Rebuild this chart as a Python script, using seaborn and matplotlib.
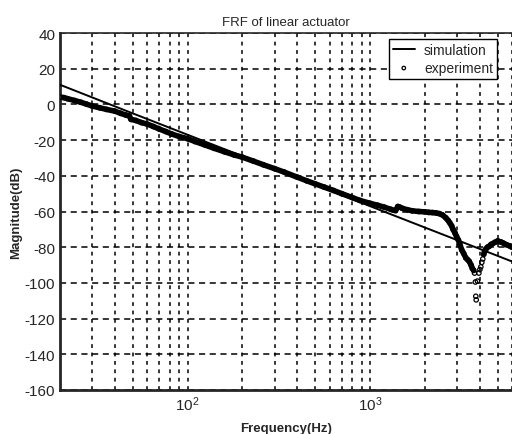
import numpy as np
import pandas as pd
import matplotlib
matplotlib.use("Agg")
import matplotlib.pyplot as plt
import seaborn as sns

# simulation: straight line on the log axis (about -40 dB/decade)
sim_freq = [20, 50, 100, 300, 1000, 3000, 6000]
sim_mag = [11.0, -5.0, -17.0, -36.0, -57.0, -76.0, -88.0]

# experiment
exp_freq = [20, 21, 22, 24, 26, 28, 30, 33, 36, 40, 43, 46, 48, 49, 52, 56,
            60, 65, 70, 76, 82, 90, 100, 110, 125, 140, 160, 180, 200, 230,
            260, 300, 340, 400, 450, 500, 560, 630, 700, 800, 880, 1000,
            1100, 1200, 1300, 1380, 1420, 1450, 1500, 1600, 1700, 1850,
            2000, 2100, 2200, 2300, 2400, 2500, 2600, 2680, 2730, 2800,
            2850, 2920, 2980, 3050, 3100, 3180, 3260, 3350, 3430, 3500,
            3580, 3640, 3700, 3740, 3780, 3800, 3820, 3880, 3950, 4000,
            4050, 4100, 4150, 4200, 4250, 4320, 4400, 4500, 4600, 4700,
            4850, 5000, 5100, 5250, 5400, 5600, 5800, 6000]
exp_mag = [4.1, 3.8, 3.2, 2.2, 1.2, 0.1, -0.9, -1.9, -2.8, -3.8, -5.0, -6.0,
           -6.5, -8.4, -9.0, -10.2, -11.0, -12.4, -13.8, -15.2, -16.6, -18.0,
           -19.2, -20.8, -22.8, -24.6, -26.6, -28.3, -29.6, -31.8, -33.8,
           -36.0, -38.0, -40.8, -42.8, -44.5, -46.3, -48.2, -50.0, -52.2,
           -53.8, -55.4, -56.5, -57.6, -58.8, -59.5, -57.2, -57.5, -58.2,
           -59.0, -59.6, -60.0, -60.2, -60.5, -60.6, -60.8, -61.2, -62.0,
           -63.5, -65.0, -66.2, -68.0, -70.0, -72.0, -74.0, -76.0, -78.0,
           -81.5, -83.5, -86.0, -87.0, -88.0, -90.0, -92.0, -93.0, -94.5,
           -99.5, -107.5, -109.5, -99.0, -94.5, -92.5, -91.0, -88.5, -86.6,
           -84.0, -82.0, -81.0, -80.0, -79.5, -78.5, -78.0, -77.2, -76.5,
           -76.8, -77.2, -77.8, -78.6, -79.2, -80.0]

sim = pd.DataFrame({"freq": sim_freq, "mag": sim_mag})
exp = pd.DataFrame({"freq": exp_freq, "mag": exp_mag})

sns.set_style("ticks")
plt.rcParams["font.family"] = ["Liberation Sans", "DejaVu Sans"]
plt.rcParams["mathtext.fontset"] = "custom"
plt.rcParams["mathtext.rm"] = "Liberation Sans"
plt.rcParams["mathtext.it"] = "Liberation Sans"
plt.rcParams["axes.unicode_minus"] = False

fig = plt.figure(figsize=(5.12, 4.35), dpi=100)
ax = fig.add_axes([60 / 512, 44 / 435, 1 - 60 / 512, 357 / 435])

# thick band under the dense experimental points
band1 = exp[exp["freq"] <= 3700]
band2 = exp[exp["freq"] >= 4200]
ax.plot(band1["freq"], band1["mag"], color="black", lw=4.0, zorder=2,
        solid_capstyle="round")
ax.plot(band2["freq"], band2["mag"], color="black", lw=4.0, zorder=2,
        solid_capstyle="round")
sns.scatterplot(data=exp, x="freq", y="mag", ax=ax, marker="o", s=10,
                facecolor="none", edgecolor="black", linewidth=0.9,
                label="experiment", zorder=3)
sns.lineplot(data=sim, x="freq", y="mag", ax=ax, color="black", lw=1.4,
             label="simulation", zorder=4)

ax.set_xscale("log")
ax.set_xlim(20, 6000)
ax.set_ylim(-160, 40)
ax.set_yticks(np.arange(-160, 41, 20))

ax.grid(True, which="both", axis="x", color="black", linestyle=(0, (2.5, 3)), lw=1.1)
ax.grid(True, which="major", axis="y", color="black", linestyle=(0, (4, 3)), lw=1.1)
ax.tick_params(which="both", direction="in", labelsize=11, length=0)

ax.spines["left"].set_linewidth(2.0)
ax.spines["bottom"].set_linewidth(2.0)
ax.spines["top"].set_linewidth(1.2)
ax.spines["right"].set_visible(False)

ax.set_title("FRF of linear actuator", fontsize=9.5, pad=6)
ax.set_xlabel("Frequency(Hz)", fontsize=9.5, fontweight="bold", labelpad=6)
ax.set_ylabel("Magnitude(dB)", fontsize=9.5, fontweight="bold", labelpad=2)

handles, labels = ax.get_legend_handles_labels()
order = [labels.index("simulation"), labels.index("experiment")]
leg = ax.legend([handles[i] for i in order], [labels[i] for i in order],
                loc="upper right", bbox_to_anchor=(0.967, 0.983),
                borderaxespad=0, frameon=True, fancybox=False,
                framealpha=1.0, facecolor="white",
                edgecolor="black", fontsize=10, handlelength=1.6,
                borderpad=0.3, labelspacing=0.25, handletextpad=0.65,
                markerscale=0.8)
leg.get_frame().set_linewidth(1.0)
leg.set_zorder(10)

fig.savefig("out.png", dpi=100)
